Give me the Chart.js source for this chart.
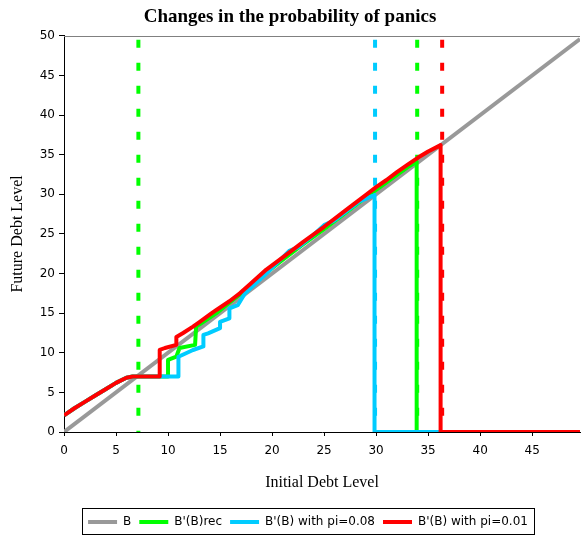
<!DOCTYPE html>
<html>
<head>
<meta charset="utf-8">
<script src="https://cdn.jsdelivr.net/npm/chart.js@4.4.0/dist/chart.umd.min.js"></script>
<style>
  html, body { margin: 0; padding: 0; background: #fff; }
</style>
</head>
<body>
<canvas id="grafico" width="582" height="538"></canvas>
<script>
// initial debt level (B) and next-period debt B'(B) for each case
const xMax = 49.6;

const bX = [0, xMax];
const bY = [0, xMax];

const recX = [0, 1, 2, 3, 4, 5, 6, 6.6, 10.0, 10.0, 10.8, 11.1, 12.6, 12.7, 13.4, 14.65, 16.25, 17.85, 19.45, 21, 23, 25, 27, 29, 31, 33, 33.9, 33.9, xMax];
const recY = [2.1, 3.0, 3.8, 4.6, 5.4, 6.2, 6.85, 7.0, 7.0, 9.1, 9.5, 10.6, 11.0, 13.3, 13.9, 15.0, 16.7, 18.3, 20.1, 21.7, 23.7, 25.6, 27.6, 29.6, 31.5, 33.4, 34.1, 0, 0];

const pi08X = [0, 1, 2, 3, 4, 5, 6, 6.6, 11.0, 11.0, 12.4, 13.4, 13.4, 13.85, 15.0, 15.0, 15.9, 15.9, 16.7, 17.4, 19.45, 21, 21.7, 22.5, 24, 25, 26, 27, 28.4, 29.85, 29.85, xMax];
const pi08Y = [2.1, 3.0, 3.8, 4.6, 5.4, 6.2, 6.85, 7.0, 7.0, 9.5, 10.35, 10.8, 12.25, 12.45, 13.1, 13.9, 14.35, 15.6, 16.0, 17.5, 20.0, 22.0, 22.9, 23.3, 24.9, 26.1, 26.7, 27.7, 29.1, 29.9, 0, 0];

const pi01X = [0, 1, 2, 3, 4, 5, 6, 6.6, 9.2, 9.2, 9.7, 10.8, 10.8, 11.45, 12.4, 13.05, 14.0, 14.65, 15.9, 16.9, 17.85, 19.45, 21, 23, 25, 27, 29, 30, 31, 32, 33, 34, 35, 36.2, 36.2, xMax];
const pi01Y = [2.1, 3.0, 3.8, 4.6, 5.4, 6.2, 6.85, 7.0, 7.0, 10.35, 10.6, 11.0, 12.0, 12.5, 13.3, 13.9, 14.8, 15.4, 16.5, 17.5, 18.6, 20.5, 22.0, 24.0, 25.9, 27.9, 29.9, 30.9, 31.8, 32.8, 33.7, 34.6, 35.4, 36.2, 0, 0];

// thresholds marked with dashed verticals
const corteRecX = [7.15, 33.95];
const corte08X = 29.9;
const corte01X = 36.35;

const nomes = ['B', "B'(B)rec", "B'(B) with pi=0.08", "B'(B) with pi=0.01"];
const cores = ['#999999', '#00ff00', '#00ccff', '#ff0000'];

function pontos(xs, ys) {
  return xs.map((x, i) => ({ x: x, y: ys[i] }));
}

function vertical(x) {
  return [{ x: x, y: 49.5 }, { x: x, y: 0 }];
}

function serie(label, data, cor, ordem) {
  return {
    label: label,
    data: data,
    borderColor: cor,
    backgroundColor: cor,
    borderWidth: 4,
    pointRadius: 0,
    tension: 0,
    borderJoinStyle: 'round',
    fill: false,
    order: ordem
  };
}

function tracejada(data, cor) {
  return {
    label: '',
    data: data,
    borderColor: cor,
    borderWidth: 4,
    borderDash: [8, 15],
    pointRadius: 0,
    fill: false,
    order: 10
  };
}

const datasets = [
  serie(nomes[0], pontos(bX, bY), cores[0], 4),
  serie(nomes[1], pontos(recX, recY), cores[1], 3),
  serie(nomes[2], pontos(pi08X, pi08Y), cores[2], 2),
  serie(nomes[3], pontos(pi01X, pi01Y), cores[3], 1),
  tracejada(vertical(corteRecX[0]), cores[1]),
  tracejada(vertical(corteRecX[1]), cores[1]),
  tracejada(vertical(corte08X), cores[2]),
  tracejada(vertical(corte01X), cores[3])
];

// moves the legend row a bit right and frames it; also the top border line
const moldura = {
  id: 'moldura',
  afterLayout(chart) {
    chart.legend.left += 18;
    chart.legend.right += 18;
  },
  beforeDatasetsDraw(chart) {
    const { ctx, chartArea } = chart;
    ctx.save();
    ctx.strokeStyle = '#808080';
    ctx.lineWidth = 1;
    ctx.beginPath();
    ctx.moveTo(chartArea.left, Math.round(chartArea.top) + 0.5);
    ctx.lineTo(chartArea.right, Math.round(chartArea.top) + 0.5);
    ctx.stroke();
    ctx.restore();
  },
  afterDraw(chart) {
    const lg = chart.legend;
    const hb = lg.legendHitBoxes;
    if (!hb || !hb.length) return;
    const ultimo = hb[hb.length - 1];
    const x0 = Math.round(hb[0].left - 6) + 0.5;
    const x1 = Math.round(ultimo.left + ultimo.width + 6) + 0.5;
    const y0 = Math.round(lg.top) + 0.5;
    const ctx = chart.ctx;
    ctx.save();
    ctx.strokeStyle = '#000';
    ctx.lineWidth = 1;
    ctx.strokeRect(x0, y0, x1 - x0, 26);
    ctx.restore();
  }
};

const fonteEixo = { family: 'DejaVu Sans', size: 12 };
const fonteTitulo = { family: 'Liberation Serif', size: 16 };

new Chart(document.getElementById('grafico'), {
  type: 'line',
  data: { datasets: datasets },
  plugins: [moldura],
  options: {
    responsive: false,
    animation: false,
    devicePixelRatio: 1,
    layout: { padding: { right: 2 } },
    plugins: {
      title: {
        display: true,
        text: 'Changes in the probability of panics',
        color: '#000',
        font: { family: 'Liberation Serif', size: 19, weight: 'bold' },
        padding: { top: 6, bottom: 7 }
      },
      legend: {
        position: 'bottom',
        labels: {
          color: '#000',
          font: fonteEixo,
          boxWidth: 29,
          boxHeight: 4,
          padding: 8,
          generateLabels: chart => chart.data.datasets.slice(0, 4).map((ds, i) => ({
            text: ds.label,
            fillStyle: ds.borderColor,
            strokeStyle: ds.borderColor,
            lineWidth: 0,
            hidden: false,
            datasetIndex: i
          }))
        }
      },
      tooltip: { enabled: false }
    },
    scales: {
      x: {
        type: 'linear',
        min: 0,
        max: xMax,
        afterFit: s => { s.height = 76; },
        border: { color: '#000', width: 1 },
        grid: { drawOnChartArea: false, tickLength: 4, color: '#000' },
        ticks: { stepSize: 5, includeBounds: false, color: '#000', font: fonteEixo, padding: 8, maxRotation: 0 },
        title: { display: true, text: 'Initial Debt Level', color: '#000', font: fonteTitulo, padding: { top: 0, bottom: 16 } }
      },
      y: {
        min: 0,
        max: 50,
        afterFit: s => { s.width = 64; },
        border: { color: '#000', width: 1 },
        grid: { drawOnChartArea: false, tickLength: 5, color: '#000' },
        ticks: { stepSize: 5, color: '#000', font: fonteEixo, padding: 4 },
        title: { display: true, text: 'Future Debt Level', color: '#000', font: fonteTitulo, padding: { top: 8, bottom: 0 } }
      }
    }
  }
});
</script>
</body>
</html>
